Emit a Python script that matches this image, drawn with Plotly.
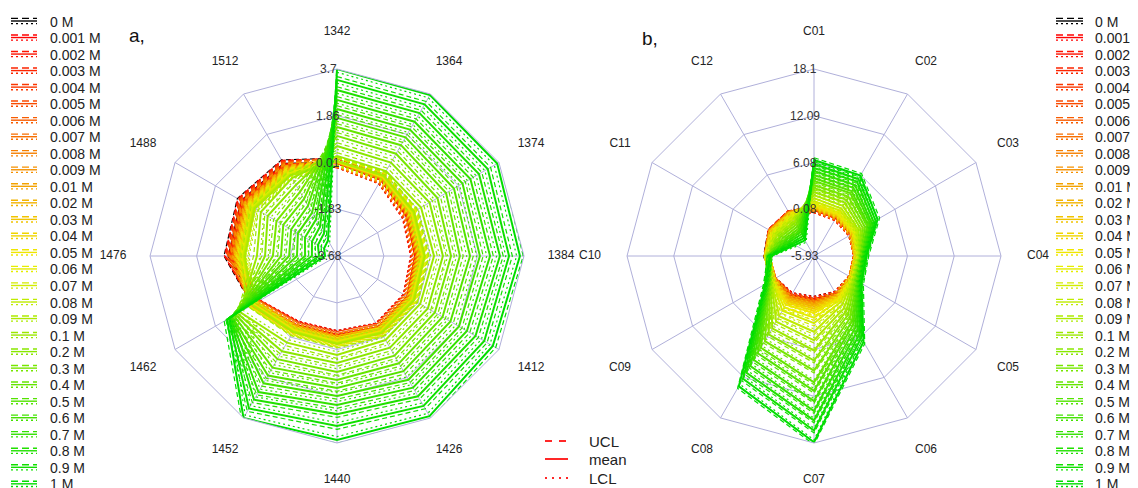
import colorsys
import plotly.graph_objects as go

# ---------------- data ----------------
conc_labels = ["0 M", "0.001 M", "0.002 M", "0.003 M", "0.004 M", "0.005 M", "0.006 M",
               "0.007 M", "0.008 M", "0.009 M", "0.01 M", "0.02 M", "0.03 M", "0.04 M",
               "0.05 M", "0.06 M", "0.07 M", "0.08 M", "0.09 M", "0.1 M", "0.2 M", "0.3 M",
               "0.4 M", "0.5 M", "0.6 M", "0.7 M", "0.8 M", "0.9 M", "1 M"]

cats_a = ["1342", "1364", "1374", "1384", "1412", "1426", "1440", "1452", "1462", "1476", "1488", "1512"]
cats_b = ["C01", "C02", "C03", "C04", "C05", "C06", "C07", "C08", "C09", "C10", "C11", "C12"]

ticks_a = [-3.68, -1.83, 0.01, 1.86, 3.7]
ticks_a_text = ["-3.68", "-1.83", "0.01", "1.86", "3.7"]
ticks_b = [-5.93, 0.08, 6.08, 12.09, 18.1]
ticks_b_text = ["-5.93", "0.08", "6.08", "12.09", "18.1"]

# mean values, panel a (one row per concentration, columns follow cats_a)
mean_a = [
    [0.00, -0.20, -0.50, -0.58, -0.47, -0.43, -0.55, -0.50, 0.02, 0.60, 0.68, 0.52],   # 0 M
    [-0.01, -0.21, -0.52, -0.60, -0.48, -0.44, -0.56, -0.52, -0.01, 0.58, 0.66, 0.50],  # 0.001
    [-0.01, -0.20, -0.51, -0.58, -0.47, -0.43, -0.55, -0.51, 0.00, 0.55, 0.64, 0.48],
    [0.00, -0.19, -0.49, -0.57, -0.46, -0.42, -0.53, -0.50, 0.01, 0.53, 0.61, 0.46],
    [0.00, -0.19, -0.48, -0.55, -0.44, -0.41, -0.52, -0.48, 0.01, 0.50, 0.59, 0.44],
    [0.00, -0.18, -0.46, -0.53, -0.43, -0.39, -0.50, -0.47, 0.02, 0.47, 0.56, 0.41],
    [0.01, -0.17, -0.44, -0.51, -0.41, -0.38, -0.48, -0.45, 0.03, 0.44, 0.53, 0.39],
    [0.01, -0.15, -0.42, -0.49, -0.39, -0.36, -0.46, -0.43, 0.05, 0.40, 0.49, 0.36],
    [0.02, -0.14, -0.40, -0.47, -0.38, -0.35, -0.44, -0.42, 0.06, 0.37, 0.47, 0.33],
    [0.02, -0.13, -0.39, -0.45, -0.36, -0.34, -0.43, -0.40, 0.07, 0.34, 0.44, 0.31],  # 0.009
    [0.03, -0.12, -0.36, -0.42, -0.34, -0.32, -0.40, -0.38, 0.08, 0.30, 0.39, 0.27],  # 0.01
    [0.03, -0.11, -0.34, -0.40, -0.32, -0.30, -0.38, -0.36, 0.09, 0.25, 0.35, 0.23],
    [0.04, -0.09, -0.31, -0.37, -0.30, -0.28, -0.35, -0.34, 0.11, 0.21, 0.31, 0.20],
    [0.04, -0.08, -0.29, -0.34, -0.28, -0.26, -0.33, -0.32, 0.12, 0.16, 0.27, 0.16],
    [0.05, -0.06, -0.26, -0.32, -0.25, -0.24, -0.30, -0.29, 0.14, 0.12, 0.23, 0.13],
    [0.05, -0.05, -0.24, -0.29, -0.23, -0.22, -0.28, -0.27, 0.15, 0.08, 0.19, 0.09],
    [0.06, -0.04, -0.22, -0.26, -0.21, -0.21, -0.26, -0.25, 0.16, 0.03, 0.15, 0.06],
    [0.07, -0.02, -0.19, -0.23, -0.19, -0.19, -0.23, -0.23, 0.18, -0.01, 0.11, 0.02],
    [0.07, -0.01, -0.17, -0.21, -0.17, -0.17, -0.21, -0.21, 0.19, -0.05, 0.07, -0.01],  # 0.09
    [0.27, 0.19, 0.15, 0.15, 0.11, 0.15, 0.23, 0.27, 0.74, -0.52, -0.21, -0.13],        # 0.1
    [0.66, 0.58, 0.54, 0.50, 0.46, 0.50, 0.54, 0.66, 0.86, -0.84, -0.52, -0.44],
    [1.06, 0.98, 0.90, 0.82, 0.78, 0.86, 0.90, 1.02, 0.94, -1.15, -0.92, -0.76],
    [1.41, 1.37, 1.29, 1.17, 1.13, 1.21, 1.21, 1.41, 1.02, -1.47, -1.23, -1.08],
    [1.77, 1.73, 1.65, 1.57, 1.49, 1.57, 1.53, 1.77, 1.10, -1.79, -1.59, -1.39],
    [2.12, 2.08, 2.04, 1.96, 1.88, 1.96, 1.84, 2.12, 1.13, -2.10, -1.90, -1.71],
    [2.48, 2.44, 2.40, 2.36, 2.24, 2.32, 2.20, 2.52, 1.17, -2.42, -2.22, -2.02],
    [2.87, 2.83, 2.79, 2.75, 2.63, 2.71, 2.56, 2.87, 1.21, -2.69, -2.54, -2.34],
    [3.27, 3.23, 3.19, 3.11, 3.03, 3.15, 3.03, 3.27, 1.25, -2.97, -2.81, -2.65],
    [3.70, 3.66, 3.62, 3.54, 3.42, 3.62, 3.58, 3.70, 1.33, -3.21, -3.09, -2.97],        # 1
]

# control-limit half widths, panel a (per concentration)
spread_a = [0.18, 0.18, 0.18, 0.18, 0.18, 0.18, 0.18, 0.18, 0.18, 0.18,
            0.16, 0.16, 0.16, 0.16, 0.16, 0.16, 0.16, 0.16, 0.16,
            0.13, 0.13, 0.13, 0.13, 0.13, 0.13, 0.13, 0.13, 0.13, 0.13]

# mean values, panel b (columns follow cats_b)
mean_b = [
    [0.1, -0.2, -0.4, -0.5, -0.4, -0.3, -0.4, -0.1, 0.1, 0.2, 0.5, 0.4],   # 0 M
    [0.0, -0.3, -0.4, -0.5, -0.4, -0.3, -0.4, -0.1, 0.1, 0.1, 0.5, 0.4],   # 0.001
    [0.0, -0.3, -0.4, -0.5, -0.4, -0.3, -0.3, -0.1, 0.1, 0.1, 0.5, 0.4],
    [0.0, -0.3, -0.4, -0.5, -0.4, -0.2, -0.3, 0.0, 0.1, 0.1, 0.5, 0.4],
    [0.1, -0.2, -0.4, -0.5, -0.4, -0.2, -0.2, 0.0, 0.1, 0.1, 0.5, 0.4],
    [0.1, -0.2, -0.3, -0.5, -0.4, -0.2, -0.1, 0.1, 0.1, 0.1, 0.4, 0.3],
    [0.1, -0.2, -0.3, -0.5, -0.4, -0.2, -0.1, 0.1, 0.1, 0.1, 0.4, 0.3],
    [0.1, -0.2, -0.3, -0.5, -0.4, -0.1, 0.0, 0.2, 0.1, 0.1, 0.4, 0.3],
    [0.2, -0.1, -0.3, -0.5, -0.4, -0.1, 0.1, 0.3, 0.1, 0.1, 0.4, 0.3],
    [0.2, -0.1, -0.3, -0.5, -0.4, -0.1, 0.2, 0.3, 0.1, 0.1, 0.4, 0.3],     # 0.009
    [0.3, 0.0, -0.2, -0.4, -0.3, 0.0, 0.3, 0.4, 0.1, 0.1, 0.4, 0.2],       # 0.01
    [0.3, 0.0, -0.2, -0.4, -0.3, 0.1, 0.5, 0.6, 0.2, 0.1, 0.3, 0.2],
    [0.4, 0.1, -0.1, -0.4, -0.3, 0.2, 0.8, 0.8, 0.2, 0.1, 0.3, 0.1],
    [0.5, 0.2, -0.1, -0.4, -0.3, 0.3, 1.1, 1.0, 0.2, 0.1, 0.2, 0.1],
    [0.6, 0.3, 0.0, -0.4, -0.3, 0.4, 1.4, 1.3, 0.2, 0.1, 0.1, 0.0],
    [0.8, 0.5, 0.1, -0.3, -0.2, 0.6, 2.0, 1.7, 0.3, 0.0, 0.0, -0.1],
    [1.1, 0.8, 0.3, -0.3, -0.1, 0.9, 2.7, 2.2, 0.3, 0.0, -0.1, -0.3],
    [1.5, 1.1, 0.5, -0.2, -0.1, 1.3, 3.8, 3.0, 0.4, 0.0, -0.3, -0.5],
    [1.9, 1.5, 0.7, -0.1, 0.0, 1.8, 4.9, 3.8, 0.4, 0.0, -0.5, -0.8],       # 0.09
    [2.3, 2.0, 1.0, 0.0, 0.1, 2.3, 6.2, 4.8, 0.5, 0.0, -0.8, -1.0],        # 0.1
    [2.8, 2.4, 1.3, 0.1, 0.2, 2.8, 7.5, 5.7, 0.6, -0.1, -1.0, -1.3],
    [3.2, 2.9, 1.6, 0.2, 0.4, 3.3, 8.8, 6.7, 0.7, -0.1, -1.3, -1.6],
    [3.7, 3.4, 1.9, 0.3, 0.5, 3.8, 10.3, 7.7, 0.8, -0.1, -1.6, -1.9],
    [4.1, 3.7, 2.1, 0.3, 0.6, 4.2, 11.4, 8.5, 0.9, -0.2, -1.8, -2.2],
    [4.5, 4.2, 2.4, 0.4, 0.7, 4.7, 12.7, 9.5, 0.9, -0.2, -2.1, -2.4],
    [5.0, 4.6, 2.6, 0.5, 0.8, 5.2, 14.0, 10.4, 1.0, -0.2, -2.3, -2.7],
    [5.4, 5.1, 2.9, 0.6, 0.9, 5.7, 15.2, 11.4, 1.1, -0.2, -2.6, -3.0],
    [5.9, 5.5, 3.2, 0.7, 1.0, 6.2, 16.5, 12.3, 1.2, -0.3, -2.8, -3.3],
    [6.4, 6.0, 3.5, 0.8, 1.1, 6.8, 18.0, 13.4, 1.3, -0.3, -3.1, -3.6],     # 1
]

spread_b = [0.35, 0.35, 0.35, 0.35, 0.35, 0.35, 0.35, 0.35, 0.35, 0.35,
            0.35, 0.35, 0.35, 0.35, 0.35, 0.35, 0.35, 0.35, 0.35,
            0.30, 0.30, 0.30, 0.30, 0.30, 0.30, 0.30, 0.30, 0.30, 0.30]

# ---------------- style ----------------
FONT = "Liberation Sans, Arial, Helvetica, sans-serif"
GRID = "rgb(176,176,218)"
OFF = 8            # the page body adds an 8px margin; positions below are window pixels
W, H = 1138 + OFF, 488 + OFF
N = len(conc_labels)
R_PLOT = 187       # outer ring radius (px)
R_LABEL = 224      # radius of category label centres (px)
CY = 256
CX_A, CX_B = 337, 814


def series_color(k):
    if k == 0:
        return "rgb(0,0,0)"
    t = (k - 1) / (N - 2)
    h = t * (1 / 3)
    r, g, b = colorsys.hsv_to_rgb(h, 1.0, 1.0 - 0.13 * t)
    return f"rgb({int(r * 255)},{int(g * 255)},{int(b * 255)})"


def px_x(x):
    return (x - OFF) / W


def px_y(y):
    return 1 - (y - OFF) / H


UCL_DASH = "5px,3px"
LCL_DASH = "2px,3px"

fig = go.Figure()
shapes = []
annotations = []


def add_panel(subplot, label_subplot, cats, ticks, tick_text, means, spreads, cx):
    for k in range(N):
        col = series_color(k)
        m = means[k]
        s = spreads[k]
        ucl = [v + s for v in m]
        lcl = [v - s for v in m]
        th = cats + [cats[0]]
        for vals, dash, wdt in ((ucl, UCL_DASH, 1.2), (m, "solid", 2.0), (lcl, LCL_DASH, 1.2)):
            fig.add_trace(go.Scatterpolar(
                subplot=subplot, theta=th, r=vals + [vals[0]], mode="lines",
                line=dict(color=col, width=wdt, dash=dash), showlegend=False,
                name=conc_labels[k], hoverinfo="skip"))
    # ring value labels along the top spoke (placed from the radial scale)
    r0, r1 = ticks[0], ticks[-1]
    for v, txt in zip(ticks, tick_text):
        ypx = CY - (v - r0) / (r1 - r0) * R_PLOT
        annotations.append(dict(text=txt, x=px_x(cx - 9), y=px_y(ypx), xref="paper", yref="paper",
                                xanchor="center", yanchor="middle", showarrow=False,
                                font=dict(family=FONT, size=12, color="#333")))
    # category labels, centred on a circle just outside the outer ring
    fig.add_trace(go.Scatterpolar(
        subplot=label_subplot, theta=cats, r=[1] * len(cats), text=cats,
        mode="text", textposition="middle center", cliponaxis=False,
        textfont=dict(family=FONT, size=12, color="#222"), showlegend=False, hoverinfo="skip"))


add_panel("polar", "polar3", cats_a, ticks_a, ticks_a_text, mean_a, spread_a, CX_A)
add_panel("polar2", "polar4", cats_b, ticks_b, ticks_b_text, mean_b, spread_b, CX_B)


def polar_layout(cats, ticks, cx):
    R = R_PLOT
    return dict(
        domain=dict(x=[px_x(cx - R), px_x(cx + R)], y=[px_y(CY + R), px_y(CY - R)]),
        gridshape="linear",
        bgcolor="white",
        radialaxis=dict(range=[ticks[0], ticks[-1]], tickvals=ticks, showticklabels=False,
                        ticks="", showline=False, gridcolor=GRID, gridwidth=1),
        angularaxis=dict(type="category", categoryarray=cats, direction="clockwise",
                         rotation=90, showticklabels=False, ticks="",
                         showline=True, linecolor=GRID, linewidth=1,
                         gridcolor=GRID, gridwidth=1),
    )


def label_layout(cats, cx):
    R = R_LABEL
    return dict(
        domain=dict(x=[px_x(cx - R), px_x(cx + R)], y=[px_y(CY + R), px_y(CY - R)]),
        bgcolor="rgba(0,0,0,0)",
        radialaxis=dict(range=[0, 1], visible=False),
        angularaxis=dict(type="category", categoryarray=cats, direction="clockwise",
                         rotation=90, visible=False),
    )


def glyph(x0, x1, y, col, dash, width=1.5):
    shapes.append(dict(type="line", xref="paper", yref="paper",
                       x0=px_x(x0), x1=px_x(x1), y0=px_y(y), y1=px_y(y),
                       line=dict(color=col, width=width, dash=dash)))


# concentration legends (left and right)
for gx0, gx1, tx in ((11, 37, 48), (1056, 1083, 1093)):
    for k in range(N):
        y = 21 + 16.53 * k
        col = series_color(k)
        glyph(gx0, gx1, y - 2.6, col, "7px,4px", 1.4)
        glyph(gx0, gx1, y, col, "solid", 1.4)
        glyph(gx0, gx1, y + 2.6, col, "2px,3px", 1.4)
        annotations.append(dict(text=conc_labels[k], x=px_x(tx), y=px_y(y + 0.5),
                                xref="paper", yref="paper", xanchor="left", yanchor="middle",
                                showarrow=False, font=dict(family=FONT, size=14, color="#222")))

# UCL / mean / LCL key
for yy, dash, lab in ((441, "7px,7px", "UCL"), (459, "solid", "mean"), (478, "2px,5px", "LCL")):
    glyph(545, 568, yy, "rgb(255,40,40)", dash, 2)
    annotations.append(dict(text=lab, x=px_x(587), y=px_y(yy), xref="paper", yref="paper",
                            xanchor="left", yanchor="middle", showarrow=False,
                            font=dict(family=FONT, size=15, color="#222")))

# panel letters
annotations.append(dict(text="a,", x=px_x(127), y=px_y(36), xref="paper", yref="paper",
                        xanchor="left", yanchor="middle", showarrow=False,
                        font=dict(family=FONT, size=19, color="#111")))
annotations.append(dict(text="b,", x=px_x(640), y=px_y(38), xref="paper", yref="paper",
                        xanchor="left", yanchor="middle", showarrow=False,
                        font=dict(family=FONT, size=19, color="#111")))

fig.update_layout(
    width=W, height=H,
    margin=dict(l=0, r=0, t=0, b=0),
    paper_bgcolor="white",
    showlegend=False,
    polar=polar_layout(cats_a, ticks_a, CX_A),
    polar2=polar_layout(cats_b, ticks_b, CX_B),
    polar3=label_layout(cats_a, CX_A),
    polar4=label_layout(cats_b, CX_B),
    shapes=shapes,
    annotations=annotations,
    font=dict(family=FONT),
)

fig.write_html("out.html")
